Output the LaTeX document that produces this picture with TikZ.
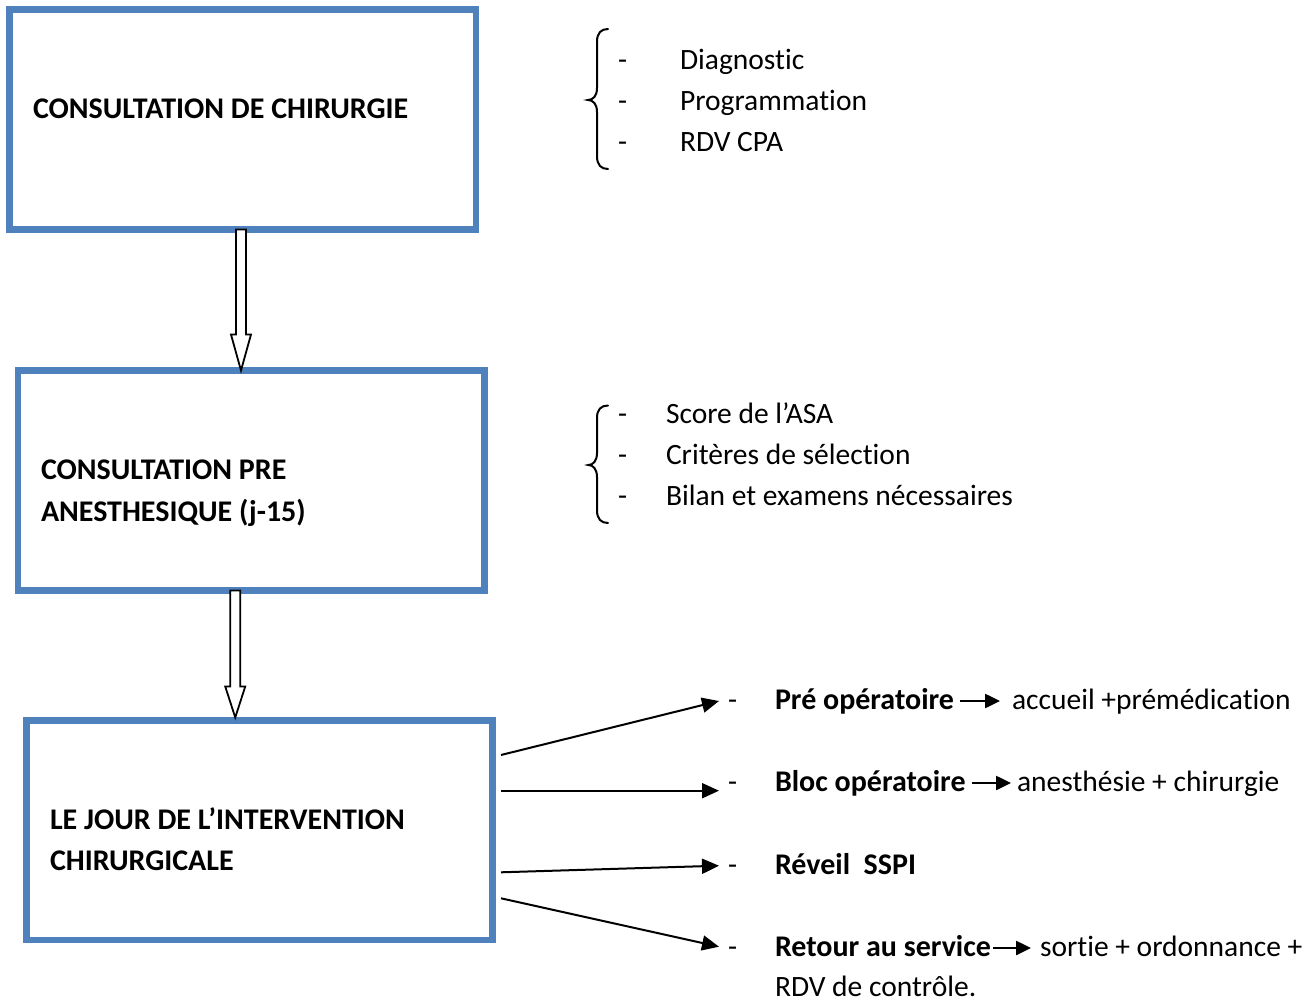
\documentclass[tikz,border=0pt]{standalone}
\usepackage{fontspec}
\setmainfont{Carlito}[Ligatures=NoCommon]
\usetikzlibrary{arrows.meta,calc}
\definecolor{boxblue}{HTML}{4F81BD}
\begin{document}
\begin{tikzpicture}[x=1pt,y=-1pt,
  font=\fontsize{29.5pt}{35pt}\selectfont,
  bluebox/.style={draw=boxblue,line width=6.5pt,minimum width=466.5pt,minimum height=220pt,inner sep=0pt,outer sep=0pt},
  txt/.style={anchor=base west,inner sep=0pt,outer sep=0pt},
  btxt/.style={txt,font=\fontsize{30pt}{35pt}\selectfont\bfseries},
  hollow/.style={draw=black,line width=1.8pt,fill=white,line join=miter},
  conn/.style={line width=2pt,-{Triangle[length=17pt,width=15pt]}},
  inarrow/.style={line width=2.5pt,-{Triangle[length=15pt,width=14pt]}},
  bracestyle/.style={line width=2pt,line cap=round}]
\useasboundingbox (0,0) rectangle (1315,1000);

% boxes
\node[bluebox] (box1) at (242.75,119.5) {};
\node[bluebox] (box2) at (251.25,480.5) {};
\node[bluebox,minimum width=465.8pt,minimum height=219.5pt] (box3) at (259.6,830.25) {};

% box texts
\node[btxt] (t1) at (33,118.5) {CONSULTATION DE CHIRURGIE};
\node[btxt] (t2a) at (41,479.5) {CONSULTATION PRE};
\node[btxt] (t2b) at (41,521.5) {ANESTHESIQUE (j-15)};
\node[btxt] (t3a) at (50,829.5) {LE JOUR DE L’INTERVENTION};
\node[btxt] (t3b) at (50,870.5) {CHIRURGICALE};

% hollow block arrows
\draw[hollow] let \p1=($(box1.south)+(-1.75pt,0)$), \p2=(box2.north) in
  (\x1-5pt,\y1) -- (\x1+5pt,\y1) -- (\x1+5pt,\y2+36pt) -- (\x1+10pt,\y2+36pt)
  -- (\x1,\y2) -- (\x1-10pt,\y2+36pt) -- (\x1-5pt,\y2+36pt) -- cycle;
\draw[hollow] let \p1=($(box2.south)+(-16pt,0)$), \p2=($(box3.north)+(0,3pt)$) in
  (\x1-5pt,\y1) -- (\x1+5pt,\y1) -- (\x1+5pt,\y2+31pt) -- (\x1+10pt,\y2+31pt)
  -- (\x1,\y2) -- (\x1-10pt,\y2+31pt) -- (\x1-5pt,\y2+31pt) -- cycle;

% list 1
\draw[bracestyle] (608,29) .. controls (601,29) and (597,33) .. (597,42) -- (597,88)
  .. controls (597,96) and (593,100) .. (588,100)
  .. controls (593,100) and (597,104) .. (597,112) -- (597,156)
  .. controls (597,165) and (601,169) .. (608,169);
\node[txt] (d11) at (618,69.5) {-};
\node[txt] (d12) at (618,110.5) {-};
\node[txt] (d13) at (618,151.5) {-};
\node[txt] (l11) at (680,69.5) {Diagnostic};
\node[txt] (l12) at (680,110.5) {Programmation};
\node[txt] (l13) at (680,151.5) {RDV CPA};

% list 2
\draw[bracestyle] (608,405.5) .. controls (601,405.5) and (597,409.5) .. (597,418) -- (597,453)
  .. controls (597,461) and (593,465) .. (588.5,465)
  .. controls (593,465) and (597,469) .. (597,477) -- (597,510)
  .. controls (597,519) and (601,523) .. (608,523);
\node[txt] (d21) at (618,423.5) {-};
\node[txt] (d22) at (618,464.5) {-};
\node[txt] (d23) at (618,505.5) {-};
\node[txt] (l21) at (666,423.5) {Score de l’ASA};
\node[txt] (l22) at (666,464.5) {Critères de sélection};
\node[txt] (l23) at (666,505.5) {Bilan et examens nécessaires};

% right list
\node[txt] (r1d) at (728,709.5) {-};
\node[txt] (r2d) at (728,791.5) {-};
\node[txt] (r3d) at (728,874.5) {-};
\node[txt] (r4d) at (728,956.5) {-};
\node[btxt] (r1) at (775,709.5) {Pré opératoire};
\node[btxt] (r2) at (775,791.5) {Bloc opératoire};
\node[btxt] (r3) at (775,874.5) {Réveil\ \ SSPI};
\node[btxt] (r4) at (775,956.5) {Retour au service};
\node[txt] (r1b) at (1012,709.5) {accueil +prémédication};
\node[txt] (r2b) at (1017,791.5) {anesthésie + chirurgie};
\node[txt] (r4b) at (1040,956.5) {sortie + ordonnance +};
\node[txt] (r4c) at (775,996.5) {RDV de contrôle.};

\draw[inarrow] ([xshift=6pt,yshift=8.5pt]r1.base east) -- ([xshift=-12pt,yshift=8.5pt]r1b.base west);
\draw[inarrow] ([xshift=6pt,yshift=8.5pt]r2.base east) -- ([xshift=-6pt,yshift=8.5pt]r2b.base west);
\draw[inarrow] ([xshift=2pt,yshift=8.5pt]r4.base east) -- ([xshift=-9pt,yshift=8.5pt]r4b.base west);

% connectors from box3
\coordinate (s1) at (501,755);
\coordinate (s2) at (501,790.7);
\coordinate (s3) at (501,872.3);
\coordinate (s4) at (501,898.3);
\coordinate (e1) at (719,701);
\coordinate (e2) at (719,790.7);
\coordinate (e3) at (719,865.7);
\coordinate (e4) at (719,946.7);
\draw[conn] (s1) -- (e1);
\draw[conn] (s2) -- (e2);
\draw[conn] (s3) -- (e3);
\draw[conn] (s4) -- (e4);
\end{tikzpicture}
\end{document}
